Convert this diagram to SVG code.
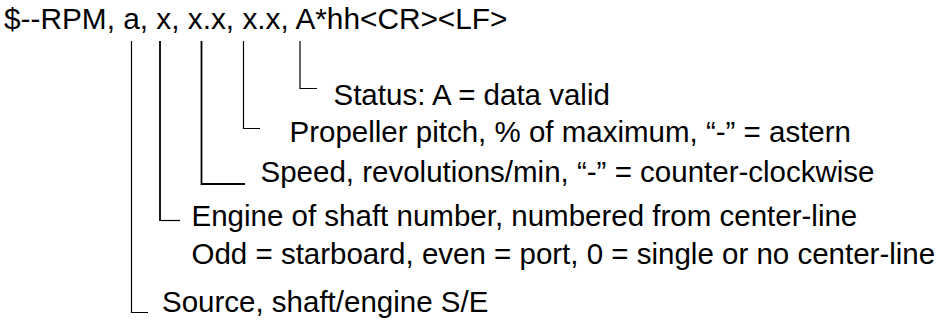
<svg xmlns="http://www.w3.org/2000/svg" width="936" height="324" viewBox="0 0 936 324">
<style>
text{font-family:"Liberation Sans",Arial,sans-serif;font-size:29.5px;fill:#000}
.h{font-size:29.8px}
.c{fill:none;stroke:#000;stroke-width:1.2}
.t{fill:none;stroke:#000;stroke-width:1.8}
</style>
<rect width="936" height="324" fill="#fff"/>
<g id="header"><text class="h" x="4" y="29">$--RPM, a, x, x.x, x.x, A*hh&lt;CR&gt;&lt;LF&gt;</text></g>
<g id="connectors">
<polyline class="c" points="300,41 300,88.5 317,88.5"/>
<polyline class="c" points="243.5,41 243.5,128.5 260,128.5"/>
<polyline class="t" points="201.5,41 201.5,184 245,184"/>
<polyline class="t" points="160,41 160,221"/>
<line class="c" x1="161" y1="220.5" x2="180" y2="220.5"/>
<polyline class="c" points="131.5,41 131.5,312.5 148,312.5"/>
</g>
<g id="status"><text x="333.5" y="105">Status: A = data valid</text></g>
<g id="pitch"><text x="289.5" y="142">Propeller pitch, % of maximum, “-” = astern</text></g>
<g id="speed"><text x="260.5" y="182">Speed, revolutions/min, “-” = counter-clockwise</text></g>
<g id="engine"><text x="191.5" y="226">Engine of shaft number, numbered from center-line</text><text x="191.5" y="263.5">Odd = starboard, even = port, 0 = single or no center-line</text></g>
<g id="source"><text x="162" y="312">Source, shaft/engine S/E</text></g>
</svg>
